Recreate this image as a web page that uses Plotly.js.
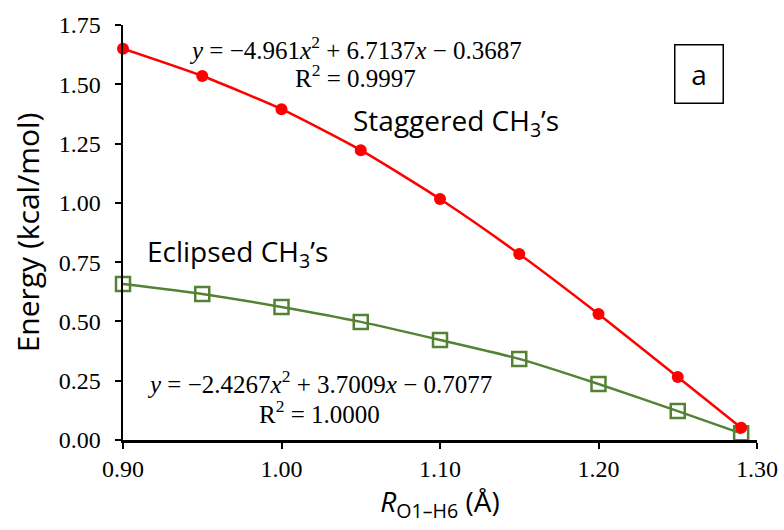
<!DOCTYPE html>
<html>
<head>
<meta charset="utf-8">
<script src="https://cdn.plot.ly/plotly-3.0.1.min.js"></script>
<style>
  html, body { margin: 0; padding: 0; background: #fff; }
  #chart { width: 784px; height: 530px; }
</style>
</head>
<body>
<div id="chart"></div>
<script>
// O1–H6 distance (Å) and relative energies (kcal/mol)
const rO1H6 = [0.90, 0.95, 1.00, 1.05, 1.10, 1.15, 1.20, 1.25, 1.29];
const staggered = [1.650, 1.535, 1.395, 1.222, 1.016, 0.784, 0.531, 0.266, 0.052];
const eclipsed  = [0.658, 0.616, 0.561, 0.498, 0.422, 0.342, 0.236, 0.122, 0.028];

const xTicks = [0.90, 1.00, 1.10, 1.20, 1.30];
const yTicks = [0.00, 0.25, 0.50, 0.75, 1.00, 1.25, 1.50, 1.75];

const redColor = '#FF0000';
const greenColor = '#548235';
const serif = 'Liberation Serif, Times New Roman, serif';
const sans = 'Open Sans, Liberation Sans, sans-serif';

const traces = [
  {
    x: rO1H6, y: eclipsed, type: 'scatter', mode: 'lines+markers',
    line: { color: greenColor, width: 2.5, shape: 'spline', smoothing: 0.6 },
    marker: { symbol: 'square-open', size: 14, color: greenColor, line: { width: 2.5, color: greenColor } },
    cliponaxis: false, hoverinfo: 'x+y'
  },
  {
    x: rO1H6, y: staggered, type: 'scatter', mode: 'lines+markers',
    line: { color: redColor, width: 2.5, shape: 'spline', smoothing: 0.6 },
    marker: { symbol: 'circle', size: 12, color: redColor },
    cliponaxis: false, hoverinfo: 'x+y'
  }
];

const layout = {
  width: 784, height: 530,
  margin: { l: 123, r: 27, t: 25, b: 90 },
  paper_bgcolor: '#fff', plot_bgcolor: '#fff',
  showlegend: false,
  xaxis: {
    range: [0.90, 1.30], tickvals: xTicks, ticktext: xTicks.map(v => v.toFixed(2)),
    showgrid: false, zeroline: false,
    showline: true, linecolor: '#000', linewidth: 2.5,
    ticks: 'outside', ticklen: 6, tickwidth: 2, tickcolor: '#000',
    tickfont: { family: serif, size: 24, color: '#000' },
    title: { text: '<i>R</i><sub>O1–H6</sub> (Å)', font: { family: sans, size: 28, color: '#000' }, standoff: 6 }
  },
  yaxis: {
    range: [0, 1.75], tickvals: yTicks, ticktext: yTicks.map(v => v.toFixed(2)),
    showgrid: false, zeroline: false,
    showline: true, linecolor: '#000', linewidth: 2.5,
    ticks: 'outside', ticklen: 6, tickwidth: 2, tickcolor: '#000',
    ticklabelstandoff: 9,
    tickfont: { family: serif, size: 24, color: '#000' },
    title: { text: 'Energy (kcal/mol)', font: { family: sans, size: 30, color: '#000' }, standoff: 10 }
  },
  annotations: [
    { x: 1.047, y: 1.653, xref: 'x', yref: 'y', showarrow: false,
      text: '<i>y</i> = −4.961<i>x</i><sup>2</sup> + 6.7137<i>x</i> − 0.3687',
      font: { family: serif, size: 25, color: '#000' } },
    { x: 1.047, y: 1.535, xref: 'x', yref: 'y', showarrow: false,
      text: 'R<sup>2</sup> = 0.9997',
      font: { family: serif, size: 25, color: '#000' } },
    { x: 1.110, y: 1.34, xref: 'x', yref: 'y', showarrow: false,
      text: 'Staggered CH<sub>3</sub>’s',
      font: { family: sans, size: 28, color: '#000' } },
    { x: 0.972, y: 0.79, xref: 'x', yref: 'y', showarrow: false,
      text: 'Eclipsed CH<sub>3</sub>’s',
      font: { family: sans, size: 28, color: '#000' } },
    { x: 1.024, y: 0.245, xref: 'x', yref: 'y', showarrow: false,
      text: '<i>y</i> = −2.4267<i>x</i><sup>2</sup> + 3.7009<i>x</i> − 0.7077',
      font: { family: serif, size: 25, color: '#000' } },
    { x: 1.024, y: 0.118, xref: 'x', yref: 'y', showarrow: false,
      text: 'R<sup>2</sup> = 1.0000',
      font: { family: serif, size: 25, color: '#000' } },
    { x: 1.2635, y: 1.543, xref: 'x', yref: 'y', showarrow: false,
      text: 'a', width: 45, height: 55,
      bordercolor: '#000', borderwidth: 1.5, borderpad: 1, bgcolor: '#fff',
      font: { family: sans, size: 28, color: '#000' } }
  ]
};

Plotly.newPlot('chart', traces, layout, { displayModeBar: false, staticPlot: true });
</script>
</body>
</html>
